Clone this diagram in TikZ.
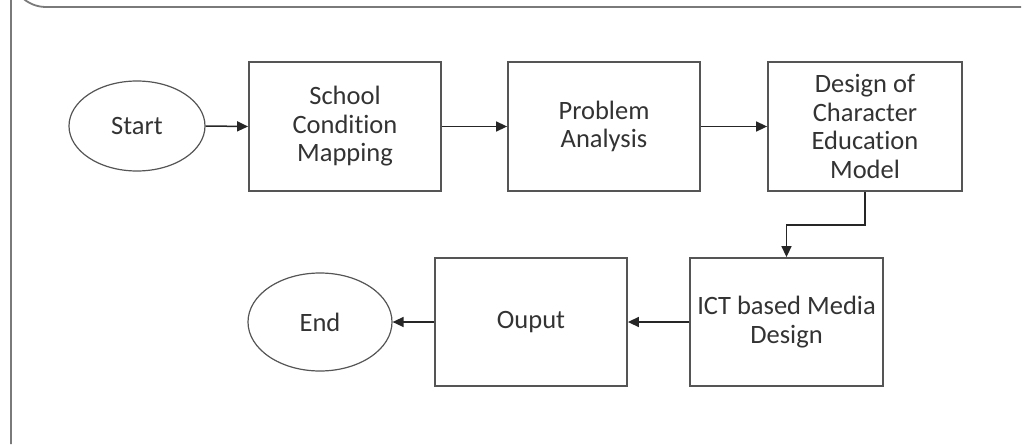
\documentclass[tikz,border=0pt]{standalone}
\usepackage{fontspec}
\setmainfont[Ligatures={NoCommon}]{Carlito}
\usetikzlibrary{arrows.meta,shapes.geometric}
\definecolor{lineg}{HTML}{555555}
\definecolor{frameg}{HTML}{7A7A7A}
\definecolor{textg}{HTML}{333333}
\tikzset{
  box/.style={draw=lineg, line width=1.8pt, rectangle, inner sep=0pt, minimum width=192pt, minimum height=129pt, align=center, text=textg, font=\fontsize{26.5}{28.5}\selectfont},
  oval/.style={draw=lineg, line width=1.2pt, ellipse, inner sep=0pt, text=textg, font=\fontsize{26.5}{28.5}\selectfont},
  conn/.style={draw=black!85, line width=1.5pt, -{Triangle[length=11pt,width=10pt]}},
}
\begin{document}
\begin{tikzpicture}[x=1pt,y=-1pt]
\useasboundingbox (0,0) rectangle (1032,444);
% frame
\draw[frameg, line width=1.8pt] (1021,7) -- (46,7) arc[start angle=90, end angle=180, radius=35] -- (11,444);
% nodes
\node[oval, minimum width=136pt, minimum height=90pt] (start) at (137,126) {Start};
\node[box] (school) at (345,126.5) {School\\Condition\\Mapping};
\node[box] (problem) at (604,126.5) {Problem\\Analysis};
\node[box, minimum width=194pt] (design) at (865,126.5) {Design of\\Character\\Education\\Model};
\node[box, minimum width=193pt, minimum height=128pt] (ict) at (786.5,322) {ICT based Media\\Design};
\node[box, minimum height=128pt] (output) at (531,322) {Ouput};
\node[oval, minimum width=144pt, minimum height=98pt] (end) at (320,322) {End};
% connectors
\draw[conn] (start.east) -- (school.west);
\draw[conn] (school.east) -- (problem.west);
\draw[conn] (problem.east) -- (design.west);
\draw[conn] (design.south) -- ++(0,33) -| (ict.north);
\draw[conn] (ict.west) -- (output.east);
\draw[conn] (output.west) -- (end.east);
\end{tikzpicture}
\end{document}
